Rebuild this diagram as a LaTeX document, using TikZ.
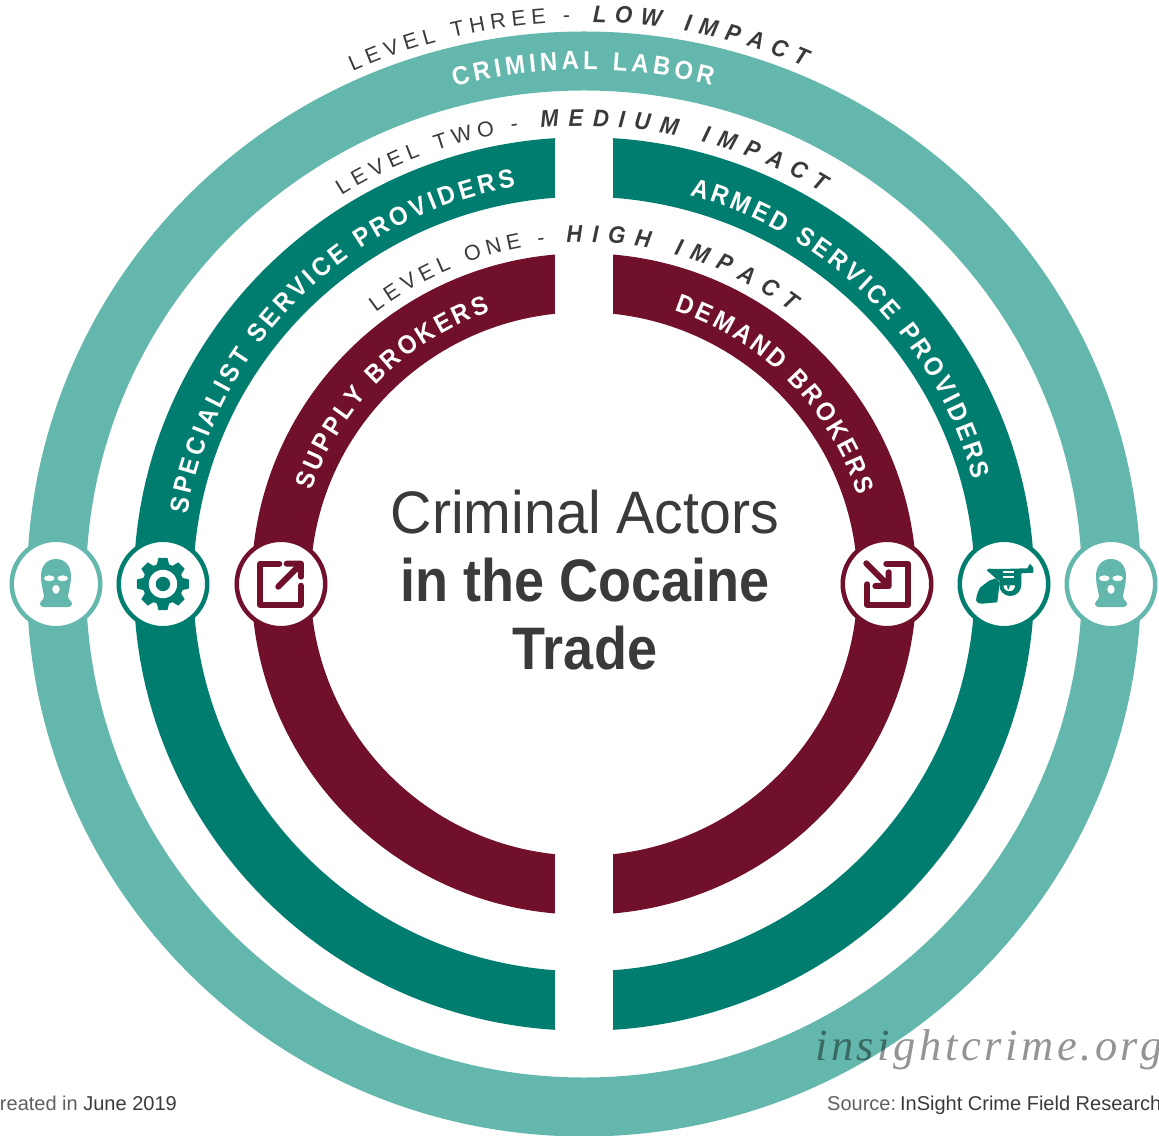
\documentclass[tikz,border=0pt]{standalone}
\usepackage{fontspec}
\setmainfont{Liberation Sans}
\newfontfamily\markfont{Liberation Serif}
\newfontfamily\narrowfont[FakeStretch=0.92]{Liberation Sans}
\newfontfamily\titlefont[FakeStretch=0.955]{Liberation Sans}
\newfontfamily\titlebold[FakeStretch=0.9]{Liberation Sans Bold}
\usetikzlibrary{decorations.text}
\definecolor{lowteal}{RGB}{99,183,172}
\definecolor{midteal}{RGB}{0,125,110}
\definecolor{highred}{RGB}{112,16,43}
\definecolor{inkgray}{RGB}{58,58,58}
\definecolor{softgray}{RGB}{95,95,95}
\newcommand{\levelfont}{\fontsize{21.5}{21.5}\selectfont}
\newcommand{\levelbold}{\narrowfont\fontsize{24}{24}\selectfont\bfseries\itshape}
\newcommand{\ringfont}{\narrowfont\fontsize{26}{26}\selectfont\bfseries}
\newcommand{\arclabel}[6]{%
  \path[decoration={text along path,text align={fit to path},text color=#4,text={|#5|#6||}},decorate]
    (#2:#1) arc[start angle=#2,end angle=#3,radius=#1];
}
\tikzset{
  iconring/.style={circle,draw=#1,fill=white,line width=4.5pt,minimum size=88.5pt,inner sep=0pt},
  maskicon/.pic={
    \fill[even odd rule] (0,25) .. controls (-10,25) and (-15,17) .. (-15,8)
      .. controls (-15,0) and (-13,-6) .. (-12,-12)
      .. controls (-12,-16) and (-16,-17) .. (-16,-20)
      .. controls (-16,-22) and (-14,-23) .. (-12,-23) -- (12,-23)
      .. controls (14,-23) and (16,-22) .. (16,-20)
      .. controls (16,-17) and (12,-16) .. (12,-12)
      .. controls (13,-6) and (15,0) .. (15,8)
      .. controls (15,17) and (10,25) .. (0,25) -- cycle
      (-6.7,5.7) ellipse (5.5 and 3)
      (6.7,5.7) ellipse (5.5 and 3)
      (0,-5.3) ellipse (3.8 and 4.6);
  },
  gearicon/.pic={
    \fill (0,0) circle (20.5);
    \foreach \a in {0,45,...,315}
      \fill[rotate=\a] (18,-6.5) -- (26,-4.5) -- (26,4.5) -- (18,6.5) -- cycle;
    \fill[white] (0,0) circle (14.2);
    \fill (0,0) circle (7.2);
  },
  exporticon/.pic={
    \draw[line width=6pt,line cap=round,line join=round]
      (-1.7,20.3) -- (-20.7,20.3) -- (-20.7,-20.7) -- (20,-20.7) -- (20,-1.7);
    \draw[line width=6pt,line cap=round,line join=round]
      (-2.7,-2.7) -- (20,20.3) (5.7,20.3) -- (20,20.3) -- (20,7.3);
  },
  importicon/.pic={
    \draw[line width=6pt,line cap=round,line join=round]
      (-0.7,20.3) -- (21,20.3) -- (21,-20.7) -- (-19.7,-20.7) -- (-19.7,-0.3);
    \draw[line width=6pt,line cap=round,line join=round]
      (-20.7,20.7) -- (1.7,-2) (-11.7,-2) -- (1.7,-2) -- (1.7,11.7);
  },
  gunicon/.pic={
    % frame and barrel
    \fill (-17.3,13.7) -- (-15,15.3) -- (-3.3,15) -- (23.3,15.7) -- (26,20.3) -- (29.3,16.3)
      -- (29.3,11.3) -- (17.3,10.7) -- (17.3,-1)
      arc[start angle=0,end angle=-180,radius=11] -- (-4.7,3) -- (-8.5,6) -- cycle;
    % grip
    \fill (-8.3,5.7) -- (-4.3,1.7) -- (-6.7,-18.3) -- (-21.7,-19.7)
      .. controls (-27,-19.7) and (-28.5,-17) .. (-27.7,-14.3)
      .. controls (-27,-9) and (-25,-6) .. (-24,-3.7) -- (-15,3.3) -- cycle;
    % cylinder and trigger
    \fill[white] (-1,12.6) rectangle (10,11.4);
    \fill[white] (-1,7.6) rectangle (10,6.4);
    \fill[white] (-0.5,-1.5) -- (11,-1.5) arc[start angle=0,end angle=-180,radius=5.75] -- cycle;
    \fill (3,-1.5) -- (6,-1.5) -- (4,-6.5) -- cycle;
  }
}

\begin{document}
\begin{tikzpicture}[x=1pt,y=1pt]
  \useasboundingbox (-584,-551) rectangle (575,584);
  % rings
  \draw[line width=59pt,lowteal] (0,0) ellipse (527.5 and 523);
  \draw[line width=59.5pt,midteal] (0,0) ellipse (420.5 and 417);
  \draw[line width=59pt,highred] (0,0) ellipse (303 and 301.2);
  \fill[white] (-29,-480) rectangle (29,480);
  % icons
  \node[iconring=lowteal] (maskleft) at (-528,0) {};
  \node[iconring=midteal] (gear) at (-421,0) {};
  \node[iconring=highred] (export) at (-303,0) {};
  \node[iconring=highred] (import) at (303,0) {};
  \node[iconring=midteal] (gun) at (420,0) {};
  \node[iconring=lowteal] (maskright) at (527,0) {};
  \pic[lowteal] at (maskleft) {maskicon};
  \pic[midteal] at (gear) {gearicon};
  \pic[highred] at (export) {exporticon};
  \pic[highred] at (import) {importicon};
  \pic[midteal] at (gun) {gunicon};
  \pic[lowteal] at (maskright) {maskicon};
  % level labels
  \arclabel{562}{114.3}{91.4}{inkgray}{\levelfont}{LEVEL THREE -}
  \arclabel{562}{89.1}{66.9}{inkgray}{\levelbold}{LOW IMPACT}
  \arclabel{458}{122}{98.2}{inkgray}{\levelfont}{LEVEL TWO -}
  \arclabel{458}{95.4}{58.7}{inkgray}{\levelbold}{MEDIUM IMPACT}
  \arclabel{342}{127.5}{96.5}{inkgray}{\levelfont}{LEVEL ONE -}
  \arclabel{342}{92.9}{52.7}{inkgray}{\levelbold}{HIGH IMPACT}
  % ring labels
  \arclabel{514.5}{104.6}{75.6}{white}{\ringfont}{CRIMINAL LABOR}
  \arclabel{403}{170}{99.8}{white}{\ringfont}{SPECIALIST SERVICE PROVIDERS}
  \arclabel{403}{74.8}{15}{white}{\ringfont}{ARMED SERVICE PROVIDERS}
  \arclabel{288}{161}{109}{white}{\ringfont}{SUPPLY BROKERS}
  \arclabel{288}{71.6}{18}{white}{\ringfont}{DEMAND BROKERS}
  % centre text
  \node[align=center,text=inkgray,font=\fontsize{60}{68}\selectfont] (title) at (1,4)
    {\titlefont Criminal Actors\\\titlebold in the Cocaine\\\titlebold Trade};
  % footer
  \node[anchor=base east,inner sep=0pt,text=softgray,font=\fontsize{20}{20}\selectfont] (created) at (-407,-526)
    {Created in {\color{inkgray}June 2019}};
  \node[anchor=base west,inner sep=0pt,text=softgray,font=\fontsize{20}{20}\selectfont] (source) at (243,-526)
    {Source:\hspace{4pt}{\color{inkgray}InSight Crime Field Research}};
  \node[anchor=base west,inner sep=0pt,text=black,text opacity=0.42] (site) at (231,-476)
    {\markfont\itshape\fontsize{44.5}{44.5}\selectfont\addfontfeature{LetterSpace=8}insightcrime.org};
\end{tikzpicture}
\end{document}
